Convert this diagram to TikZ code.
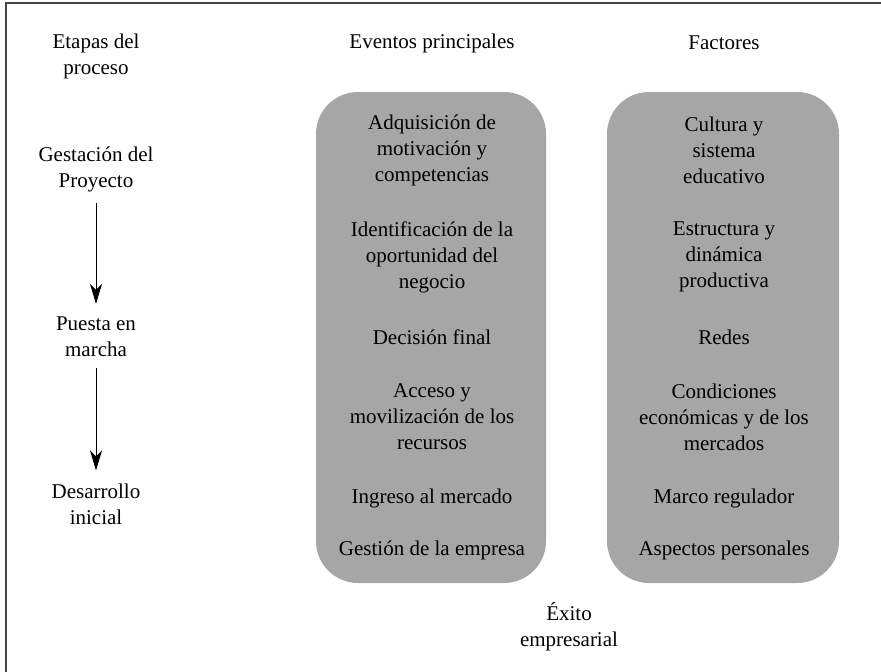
\documentclass[tikz,border=0pt]{standalone}
\usepackage{fontspec}
\setmainfont{Liberation Serif}
\usetikzlibrary{arrows.meta}
\definecolor{panelgray}{HTML}{A6A6A6}
\definecolor{framegray}{HTML}{444444}
\begin{document}
\begin{tikzpicture}[x=1pt,y=-1pt,
  txt/.style={align=center,inner sep=0pt,font=\fontsize{21}{26}\selectfont},
  panel/.style={fill=panelgray,draw=none,rounded corners=42pt,inner sep=0pt},
  flow/.style={-{Stealth[length=20pt,width=12pt,inset=6pt]},line width=0.9pt,shorten <=11pt,shorten >=13pt},
  frame/.style={draw=framegray,line width=2pt}]
\useasboundingbox (0,0) rectangle (881,672);
% frame (only top and left edges visible)
\coordinate (fbl) at (6,672);
\coordinate (ftl) at (6,3);
\coordinate (ftr) at (881,3);
\draw[frame] (fbl) -- (ftl) -- (ftr);
% panels
\node[panel,minimum width=230pt,minimum height=491pt] (evbox) at (431,337.5) {};
\node[panel,minimum width=232pt,minimum height=491pt] (fabox) at (723,337.5) {};
% headers
\node[txt] (h1) at (96,56) {Etapas del\\proceso};
\node[txt] (h2) at (432,43) {Eventos principales};
\node[txt] (h3) at (724,43) {Factores};
% stages
\node[txt] (gest) at (96,169) {Gestación del\\Proyecto};
\node[txt] (puesta) at (96,337) {Puesta en\\marcha};
\node[txt] (desa) at (96,504) {Desarrollo\\inicial};
\draw[flow] (gest) -- (puesta);
\draw[flow] (puesta) -- (desa);
% events
\node[txt] (e1) at (432,150) {Adquisición de\\motivación y\\competencias};
\node[txt] (e2) at (432,257) {Identificación de la\\oportunidad del\\negocio};
\node[txt] (e3) at (432,337) {Decisión final};
\node[txt] (e4) at (432,417) {Acceso y\\movilización de los\\recursos};
\node[txt] (e5) at (432,498) {Ingreso al mercado};
\node[txt] (e6) at (432,550) {Gestión de la empresa};
% factors
\node[txt] (f1) at (724,150) {Cultura y\\sistema\\educativo};
\node[txt] (f2) at (724,257) {Estructura y\\dinámica\\productiva};
\node[txt] (f3) at (724,337) {Redes};
\node[txt] (f4) at (724,417) {Condiciones\\económicas y de los\\mercados};
\node[txt] (f5) at (724,498) {Marco regulador};
\node[txt] (f6) at (724,550) {Aspectos personales};
% outcome
\node[txt] (exito) at (569,627) {Éxito\\empresarial};
\end{tikzpicture}
\end{document}
